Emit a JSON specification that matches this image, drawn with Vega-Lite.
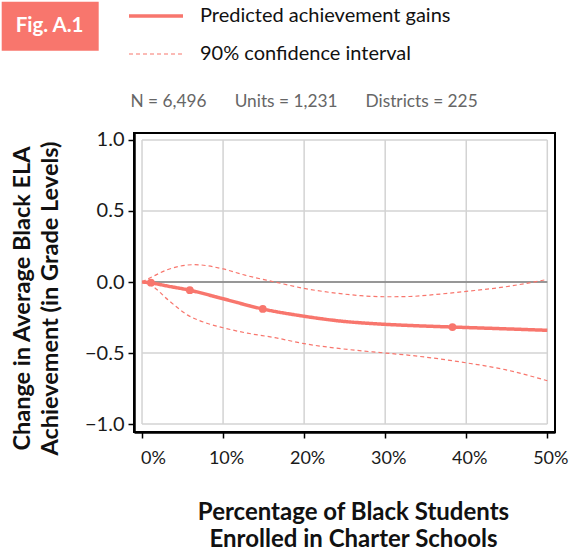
{
  "$schema": "https://vega.github.io/schema/vega-lite/v6.json",
  "autosize": {"type": "none"},
  "width": 421,
  "height": 299,
  "padding": {"left": 134, "top": 133, "right": 16, "bottom": 120},
  "config": {
    "font": "Lato",
    "view": {"stroke": "#000", "strokeWidth": 2}
  },
  "resolve": {"axis": {"y": "independent"}},
  "datasets": {
    "curves": [
      {"pct": 0, "est": 0, "series": "Predicted achievement gains", "bound": "fit"},
      {"pct": 0.011, "est": -0.006, "series": "Predicted achievement gains", "bound": "fit"},
      {"pct": 0.03, "est": -0.027, "series": "Predicted achievement gains", "bound": "fit"},
      {"pct": 0.059, "est": -0.058, "series": "Predicted achievement gains", "bound": "fit"},
      {"pct": 0.10, "est": -0.118, "series": "Predicted achievement gains", "bound": "fit"},
      {"pct": 0.149, "est": -0.19, "series": "Predicted achievement gains", "bound": "fit"},
      {"pct": 0.20, "est": -0.241, "series": "Predicted achievement gains", "bound": "fit"},
      {"pct": 0.24, "est": -0.272, "series": "Predicted achievement gains", "bound": "fit"},
      {"pct": 0.30, "est": -0.298, "series": "Predicted achievement gains", "bound": "fit"},
      {"pct": 0.33, "est": -0.306, "series": "Predicted achievement gains", "bound": "fit"},
      {"pct": 0.383, "est": -0.317, "series": "Predicted achievement gains", "bound": "fit"},
      {"pct": 0.45, "est": -0.330, "series": "Predicted achievement gains", "bound": "fit"},
      {"pct": 0.50, "est": -0.340, "series": "Predicted achievement gains", "bound": "fit"},
      {"pct": 0, "est": 0, "series": "90% confidence interval", "bound": "upper"},
      {"pct": 0.012, "est": 0.035, "series": "90% confidence interval", "bound": "upper"},
      {"pct": 0.032, "est": 0.088, "series": "90% confidence interval", "bound": "upper"},
      {"pct": 0.065, "est": 0.122, "series": "90% confidence interval", "bound": "upper"},
      {"pct": 0.10, "est": 0.092, "series": "90% confidence interval", "bound": "upper"},
      {"pct": 0.127, "est": 0.048, "series": "90% confidence interval", "bound": "upper"},
      {"pct": 0.164, "est": 0.0, "series": "90% confidence interval", "bound": "upper"},
      {"pct": 0.20, "est": -0.045, "series": "90% confidence interval", "bound": "upper"},
      {"pct": 0.24, "est": -0.079, "series": "90% confidence interval", "bound": "upper"},
      {"pct": 0.27, "est": -0.096, "series": "90% confidence interval", "bound": "upper"},
      {"pct": 0.30, "est": -0.104, "series": "90% confidence interval", "bound": "upper"},
      {"pct": 0.33, "est": -0.102, "series": "90% confidence interval", "bound": "upper"},
      {"pct": 0.36, "est": -0.089, "series": "90% confidence interval", "bound": "upper"},
      {"pct": 0.40, "est": -0.066, "series": "90% confidence interval", "bound": "upper"},
      {"pct": 0.448, "est": -0.034, "series": "90% confidence interval", "bound": "upper"},
      {"pct": 0.50, "est": 0.018, "series": "90% confidence interval", "bound": "upper"},
      {"pct": 0, "est": 0, "series": "90% confidence interval", "bound": "lower"},
      {"pct": 0.013, "est": -0.03, "series": "90% confidence interval", "bound": "lower"},
      {"pct": 0.032, "est": -0.125, "series": "90% confidence interval", "bound": "lower"},
      {"pct": 0.057, "est": -0.235, "series": "90% confidence interval", "bound": "lower"},
      {"pct": 0.08, "est": -0.29, "series": "90% confidence interval", "bound": "lower"},
      {"pct": 0.10, "est": -0.322, "series": "90% confidence interval", "bound": "lower"},
      {"pct": 0.13, "est": -0.36, "series": "90% confidence interval", "bound": "lower"},
      {"pct": 0.164, "est": -0.392, "series": "90% confidence interval", "bound": "lower"},
      {"pct": 0.20, "est": -0.434, "series": "90% confidence interval", "bound": "lower"},
      {"pct": 0.24, "est": -0.466, "series": "90% confidence interval", "bound": "lower"},
      {"pct": 0.30, "est": -0.50, "series": "90% confidence interval", "bound": "lower"},
      {"pct": 0.33, "est": -0.516, "series": "90% confidence interval", "bound": "lower"},
      {"pct": 0.40, "est": -0.569, "series": "90% confidence interval", "bound": "lower"},
      {"pct": 0.448, "est": -0.617, "series": "90% confidence interval", "bound": "lower"},
      {"pct": 0.50, "est": -0.695, "series": "90% confidence interval", "bound": "lower"}
    ],
    "points": [
      {"pct": 0.011, "est": -0.005},
      {"pct": 0.059, "est": -0.058},
      {"pct": 0.149, "est": -0.19},
      {"pct": 0.383, "est": -0.317}
    ],
    "xgrid": [{"g": 0}, {"g": 0.1}, {"g": 0.2}, {"g": 0.3}, {"g": 0.4}, {"g": 0.5}],
    "ygrid": [{"h": -1}, {"h": -0.5}, {"h": 0}, {"h": 0.5}, {"h": 1}]
  },
  "layer": [
    {
      "data": {"name": "ygrid"},
      "mark": {"type": "rule", "color": "#d3d3d3", "strokeWidth": 1.5},
      "encoding": {
        "y": {
          "field": "h", "type": "quantitative",
          "scale": {"domain": [-1.056, 1.049], "nice": false, "zero": false},
          "axis": {
            "orient": "left",
            "values": [-1, -0.5, 0, 0.5, 1], "format": ".1f", "grid": false,
            "domainColor": "#000", "domainWidth": 2.5, "tickColor": "#000", "tickWidth": 1.5, "tickSize": 6,
            "labelFontSize": 20, "labelColor": "#1a1a1a", "labelPadding": 4,
            "title": ["Change in Average Black ELA", "Achievement (in Grade Levels)"],
            "titleFontSize": 23.5, "titleFontWeight": "bold", "titleColor": "#111",
            "titleX": -105, "titleY": 165, "titleAngle": -90, "titleAlign": "center",
            "titleBaseline": "alphabetic", "titleLineHeight": 28
          }
        },
        "x": {"datum": 0, "type": "quantitative", "scale": {"domain": [-0.0099, 0.5095], "nice": false, "zero": false}, "axis": null},
        "x2": {"datum": 0.5}
      }
    },
    {
      "data": {"name": "xgrid"},
      "mark": {"type": "rule", "color": "#d3d3d3", "strokeWidth": 1.5},
      "encoding": {
        "x": {
          "field": "g", "type": "quantitative",
          "scale": {"domain": [-0.0099, 0.5095], "nice": false, "zero": false},
          "axis": {
            "orient": "top", "labels": false, "ticks": false, "domain": false, "grid": false,
            "title": "N = 6,496\u2003\u2003\u2009Units = 1,231\u2003\u2003\u2009Districts = 225",
            "titleX": -4, "titleY": -26.5, "titleAlign": "left", "titleAnchor": "start",
            "titleBaseline": "alphabetic", "titleFontSize": 17.3, "titleFontWeight": "normal",
            "titleColor": "#666666", "titleFont": "Lato"
          }
        },
        "y": {"datum": -1, "type": "quantitative", "scale": {"domain": [-1.056, 1.049], "nice": false, "zero": false}, "axis": null},
        "y2": {"datum": 1}
      }
    },
    {
      "data": {"values": [{"h": 0}]},
      "mark": {"type": "rule", "color": "#7f7f7f", "strokeWidth": 1.5},
      "encoding": {
        "y": {"field": "h", "type": "quantitative", "scale": {"domain": [-1.056, 1.049], "nice": false, "zero": false}, "axis": null},
        "x": {"datum": 0, "type": "quantitative", "scale": {"domain": [-0.0099, 0.5095], "nice": false, "zero": false}, "axis": null},
        "x2": {"datum": 0.5}
      }
    },
    {
      "data": {"name": "curves"},
      "mark": {"type": "line", "interpolate": "monotone"},
      "encoding": {
        "x": {
          "field": "pct", "type": "quantitative",
          "scale": {"domain": [-0.0099, 0.5095], "nice": false, "zero": false},
          "axis": {
            "orient": "bottom",
            "values": [0, 0.1, 0.2, 0.3, 0.4, 0.5], "format": ".0%", "grid": false,
            "domainColor": "#000", "domainWidth": 2.5, "tickColor": "#000", "tickWidth": 1.5, "tickSize": 6,
            "labelFontSize": 18, "labelColor": "#1a1a1a", "labelPadding": 11,
            "labelOffset": {"condition": {"test": "datum.value === 0", "value": 11}, "value": 3},
            "title": ["Percentage of Black Students", "Enrolled in Charter Schools"],
            "titleFontSize": 24, "titleFontWeight": "bold", "titleColor": "#111",
            "titleX": 219, "titleY": 87, "titleAlign": "center", "titleBaseline": "alphabetic",
            "titleLineHeight": 27
          }
        },
        "y": {
          "field": "est", "type": "quantitative",
          "scale": {"domain": [-1.056, 1.049], "nice": false, "zero": false},
          "axis": null
        },
        "detail": {"field": "bound"},
        "color": {
          "field": "series", "type": "nominal",
          "scale": {"domain": ["Predicted achievement gains", "90% confidence interval"], "range": ["#F8766D", "#F8766D"]},
          "legend": {
            "orient": "none", "legendX": -7, "legendY": -146, "title": null,
            "symbolType": "stroke", "symbolSize": 2916, "labelFontSize": 20, "labelColor": "#111",
            "labelLimit": 400, "labelOffset": 15, "rowPadding": -3.3, "padding": 0, "direction": "vertical"
          }
        },
        "strokeDash": {
          "field": "series", "type": "nominal",
          "scale": {"domain": ["Predicted achievement gains", "90% confidence interval"], "range": [[1, 0], [4, 3]]}
        },
        "strokeWidth": {
          "field": "series", "type": "nominal",
          "scale": {"domain": ["Predicted achievement gains", "90% confidence interval"], "range": [3.5, 1.2]}
        }
      }
    },
    {
      "data": {"name": "points"},
      "mark": {"type": "point", "filled": true, "color": "#F8766D", "opacity": 1, "size": 60},
      "encoding": {
        "x": {"field": "pct", "type": "quantitative", "scale": {"domain": [-0.0099, 0.5095], "nice": false, "zero": false}, "axis": null},
        "y": {"field": "est", "type": "quantitative", "scale": {"domain": [-1.056, 1.049], "nice": false, "zero": false}, "axis": null},
        "shape": {
          "datum": "Fig. A.1",
          "scale": {"range": ["circle"]},
          "legend": {
            "orient": "none", "legendX": -132.3, "legendY": -131.3, "title": null,
            "fillColor": "#F8766D", "padding": 14,
            "labelColor": "#ffffff", "labelFontSize": 20.5, "labelFontWeight": "bold", "labelFont": "Lato",
            "labelOffset": -20.5, "symbolSize": 0, "symbolOpacity": 0, "symbolStrokeWidth": 0
          }
        }
      }
    }
  ]
}
